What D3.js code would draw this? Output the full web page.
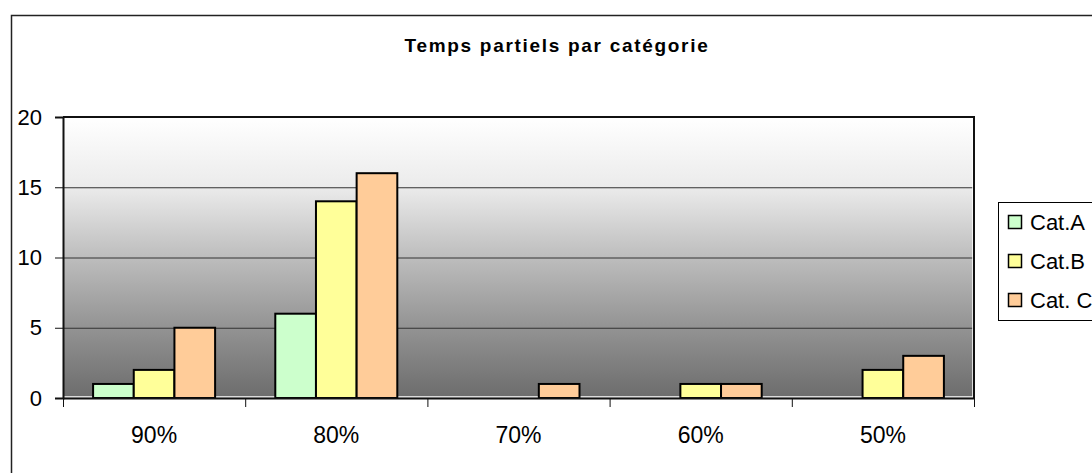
<!DOCTYPE html>
<html>
<head>
<meta charset="utf-8">
<script src="https://cdn.jsdelivr.net/npm/d3@7"></script>
<style>
  body { margin: 0; background: #fff; }
  text { font-family: "Liberation Sans", Arial, sans-serif; }
</style>
</head>
<body>
<div id="chart"></div>
<script>
// Data
var categories = ["90%", "80%", "70%", "60%", "50%"];
var seriesNames = ["Cat.A", "Cat.B", "Cat. C"];
var catA = [1, 6, 0, 0, 0];
var catB = [2, 14, 0, 1, 2];
var catC = [5, 16, 1, 1, 3];
var yTicks = [0, 5, 10, 15, 20];
var seriesColors = ["#ccffcc", "#ffff99", "#ffcc99"];

var svgWidth = 1092;
var svgHeight = 473;

// plot area box
var plot = { left: 63, top: 117, right: 974, bottom: 398 };

var svg = d3.select("#chart").append("svg")
  .attr("width", svgWidth)
  .attr("height", svgHeight);

// outer chart border (runs off the right and bottom edges)
svg.append("rect")
  .attr("x", 11.5).attr("y", 15.5)
  .attr("width", 1200).attr("height", 600)
  .attr("fill", "#fff")
  .attr("stroke", "#222")
  .attr("stroke-width", 1.5);

// title
svg.append("text")
  .attr("x", 557).attr("y", 52)
  .attr("text-anchor", "middle")
  .attr("font-size", "19px")
  .attr("font-weight", "bold")
  .attr("letter-spacing", "1.7px")
  .text("Temps partiels par catégorie");

// gradient background of plot area
var defs = svg.append("defs");
var grad = defs.append("linearGradient")
  .attr("id", "bg").attr("x1", 0).attr("y1", 0).attr("x2", 0).attr("y2", 1);
[[0, "#ffffff"], [0.25, "#ebebeb"], [0.5, "#bdbdbd"], [0.75, "#939393"], [1, "#6c6c6c"]]
  .forEach(function (s) {
    grad.append("stop").attr("offset", s[0]).attr("stop-color", s[1]);
  });

svg.append("rect")
  .attr("x", plot.left).attr("y", plot.top)
  .attr("width", plot.right - plot.left).attr("height", plot.bottom - plot.top)
  .attr("fill", "url(#bg)");

// scales
var y = d3.scaleLinear().domain([0, 20]).range([plot.bottom, plot.top]);
var x0 = d3.scaleBand().domain(categories).range([plot.left, plot.right]).padding(0);
var x1 = d3.scaleBand().domain(seriesNames).range([0, x0.bandwidth()])
  .paddingInner(0).paddingOuter(0.74);

// gridlines
svg.append("g").selectAll("line")
  .data(yTicks.filter(function (t) { return t > 0 && t < 20; }))
  .enter().append("line")
  .attr("x1", plot.left).attr("x2", plot.right)
  .attr("y1", function (d) { return y(d) + 0.5; })
  .attr("y2", function (d) { return y(d) + 0.5; })
  .attr("stroke", "#333").attr("stroke-width", 1);

// inner light edge on right and bottom
svg.append("path")
  .attr("d", `M${plot.left},${plot.bottom - 1} H${plot.right - 1} V${plot.top}`)
  .attr("fill", "none").attr("stroke", "#fff").attr("stroke-width", 1.5);

// plot border top and right
svg.append("path")
  .attr("d", `M${plot.left},${plot.top} H${plot.right} V${plot.bottom}`)
  .attr("fill", "none").attr("stroke", "#111").attr("stroke-width", 2);

// bars
var rows = categories.map(function (c, i) {
  return { cat: c, values: [catA[i], catB[i], catC[i]] };
});
var groups = svg.append("g").selectAll("g")
  .data(rows).enter().append("g")
  .attr("transform", function (d) { return `translate(${x0(d.cat)},0)`; });

groups.selectAll("rect")
  .data(function (d) {
    return d.values.map(function (v, j) { return { name: seriesNames[j], value: v, color: seriesColors[j] }; })
      .filter(function (e) { return e.value > 0; });
  })
  .enter().append("rect")
  .attr("x", function (d) { return x1(d.name); })
  .attr("y", function (d) { return y(d.value); })
  .attr("width", x1.bandwidth())
  .attr("height", function (d) { return plot.bottom - y(d.value); })
  .attr("fill", function (d) { return d.color; })
  .attr("stroke", "#000")
  .attr("stroke-width", 2);

// y axis
var yAxis = svg.append("g")
  .attr("transform", `translate(${plot.left},0)`)
  .call(d3.axisLeft(y).tickValues(yTicks).tickSize(8).tickPadding(13));
yAxis.select(".domain").attr("stroke", "#111").attr("stroke-width", 2);
yAxis.selectAll(".tick line").attr("stroke", "#111");
yAxis.selectAll(".tick text")
  .attr("font-size", "22px")
  .attr("fill", "#000")
  .attr("font-family", "Liberation Sans, Arial, sans-serif");

// x axis: ticks at category boundaries
var xAxis = svg.append("g")
  .attr("transform", `translate(0,${plot.bottom})`);
xAxis.append("line")
  .attr("x1", plot.left).attr("x2", plot.right)
  .attr("y1", 0.5).attr("y2", 0.5)
  .attr("stroke", "#111").attr("stroke-width", 2);
var boundaries = categories.map(function (c) { return x0(c); }).concat([plot.right]);
xAxis.selectAll(".bt").data(boundaries).enter().append("line")
  .attr("class", "bt")
  .attr("x1", function (d) { return d + 0.5; }).attr("x2", function (d) { return d + 0.5; })
  .attr("y1", 0).attr("y2", 9)
  .attr("stroke", "#111");
xAxis.selectAll(".lbl").data(categories).enter().append("text")
  .attr("class", "lbl")
  .attr("x", function (d) { return x0(d) + x0.bandwidth() / 2; })
  .attr("y", 45)
  .attr("text-anchor", "middle")
  .attr("font-size", "23px")
  .text(function (d) { return d; });

// legend
var legend = svg.append("g").attr("transform", "translate(998,202)");
legend.append("rect")
  .attr("x", 0.5).attr("y", 0.5)
  .attr("width", 200).attr("height", 118)
  .attr("fill", "#fff").attr("stroke", "#000").attr("stroke-width", 1);
var items = legend.selectAll(".item").data(seriesNames).enter().append("g")
  .attr("class", "item")
  .attr("transform", function (d, i) { return `translate(0,${20 + i * 39})`; });
items.append("rect")
  .attr("x", 10.5).attr("y", -6.5)
  .attr("width", 13).attr("height", 13)
  .attr("fill", function (d, i) { return seriesColors[i]; })
  .attr("stroke", "#000").attr("stroke-width", 1.5);
items.append("text")
  .attr("x", 32).attr("y", 8)
  .attr("font-size", "22px")
  .text(function (d) { return d; });
</script>
</body>
</html>
